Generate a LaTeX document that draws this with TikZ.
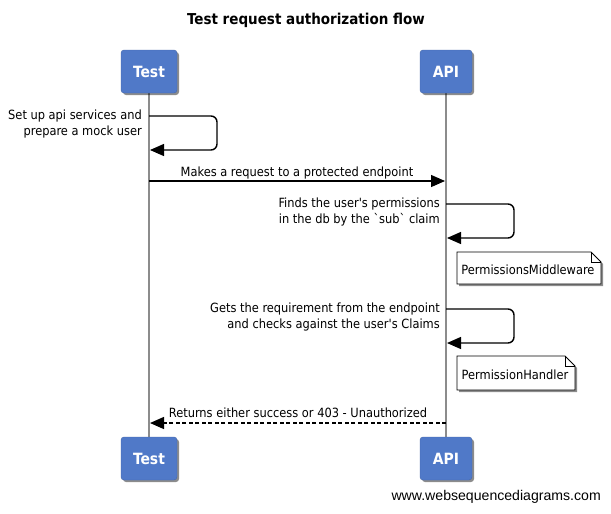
\documentclass[tikz,border=0pt]{standalone}
\usepackage{fontspec}
\setmainfont{DejaVu Sans Condensed}
\newfontfamily\wmfont{Liberation Sans}
\usetikzlibrary{arrows.meta,shadows}
\definecolor{actorblue}{HTML}{5079C8}
\definecolor{lifegray}{HTML}{8C8C8C}
\newcommand\ap{\textquotesingle}
\newcommand\bq{\textasciigrave}
\tikzset{
  actor/.style={draw=actorblue!85!black, fill=actorblue, rounded corners=3pt, minimum width=54pt, minimum height=43pt,
    text=white, font=\fontsize{15.5}{18}\selectfont\bfseries, inner sep=0pt,
    drop shadow={shadow xshift=2pt, shadow yshift=-2pt, opacity=0.45, fill=black}},
  lifeline/.style={draw=lifegray, line width=1.6pt},
  msg/.style={draw=black, line width=1.4pt, -{Triangle[length=14pt,width=12pt]}},
  retmsg/.style={msg, dash pattern=on 4pt off 2.5pt},
  lbl/.style={font=\fontsize{12.7}{16}\selectfont, inner sep=0pt},
  notetxt/.style={font=\fontsize{12.7}{15}\selectfont, inner sep=0pt},
  notebox/.style={draw=black, fill=white, line width=0.8pt},
}
\begin{document}
\begin{tikzpicture}[x=1pt,y=-1pt]
\useasboundingbox (0,0) rectangle (611,514);
% title
\node[font=\fontsize{15}{18}\selectfont\bfseries, inner sep=0pt] (title) at (306,20) {Test request authorization flow};
% lifelines
\coordinate (tl) at (149,93);
\coordinate (tb) at (149,437);
\coordinate (al) at (446,93);
\coordinate (ab) at (446,437);
\draw[lifeline] (tl) -- (tb);
\draw[lifeline] (al) -- (ab);
% actors
\node[actor, minimum width=56pt] (testtop) at (149,71.5) {Test};
\node[actor, minimum width=52pt] (apitop) at (446,71.5) {API};
\node[actor, minimum width=56pt] (testbot) at (149,458.5) {Test};
\node[actor, minimum width=52pt] (apibot) at (446,458.5) {API};
% self message 1
\coordinate (s1a) at (149,116);
\coordinate (s1b) at (217,116);
\coordinate (s1c) at (217,150);
\coordinate (s1d) at (150,150);
\draw[msg, rounded corners=6pt] (s1a) -- (s1b) -- (s1c) -- (s1d);
\node[lbl, align=right, anchor=east] (l1) at (142,124) {Set up api services and\\prepare a mock user};
% message 2
\coordinate (m2a) at (149,181);
\coordinate (m2b) at (445,181);
\draw[msg] (m2a) -- (m2b);
\node[lbl] (l2) at (297,173) {Makes a request to a protected endpoint};
% self message 3
\coordinate (s3a) at (446,204);
\coordinate (s3b) at (514,204);
\coordinate (s3c) at (514,238);
\coordinate (s3d) at (447,238);
\draw[msg, rounded corners=6pt] (s3a) -- (s3b) -- (s3c) -- (s3d);
\node[lbl, align=right, anchor=east] (l3) at (440,212) {Finds the user\ap s permissions\\in the db by the \bq sub\bq{} claim};
% note 1
\draw[notebox, drop shadow={shadow xshift=2pt, shadow yshift=-2pt, opacity=0.45, fill=black}] (457,252) -- (591,252) -- (601,262) -- (601,284) -- (457,284) -- cycle;
\draw[line width=0.8pt] (591,252) -- (591,262) -- (601,262);
\node[notetxt] (n1) at (528,269.5) {PermissionsMiddleware};
% self message 4
\coordinate (s4a) at (446,309);
\coordinate (s4b) at (514,309);
\coordinate (s4c) at (514,343);
\coordinate (s4d) at (447,343);
\draw[msg, rounded corners=6pt] (s4a) -- (s4b) -- (s4c) -- (s4d);
\node[lbl, align=right, anchor=east] (l4) at (440,317) {Gets the requirement from the endpoint\\and checks against the user\ap s Claims};
% note 2
\draw[notebox, drop shadow={shadow xshift=2pt, shadow yshift=-2pt, opacity=0.45, fill=black}] (457,356) -- (565,356) -- (575,366) -- (575,390) -- (457,390) -- cycle;
\draw[line width=0.8pt] (565,356) -- (565,366) -- (575,366);
\node[notetxt] (n2) at (515,374.5) {PermissionHandler};
% return
\coordinate (r1) at (446,423);
\coordinate (r2) at (150,423);
\draw[retmsg] (r1) -- (r2);
\node[lbl] (l5) at (298,413) {Returns either success or 403 - Unauthorized};
% watermark
\node[font=\wmfont\fontsize{14.1}{16}\selectfont, anchor=east, inner sep=0pt] (wm) at (601,497) {www.websequencediagrams.com};
\end{tikzpicture}
\end{document}
